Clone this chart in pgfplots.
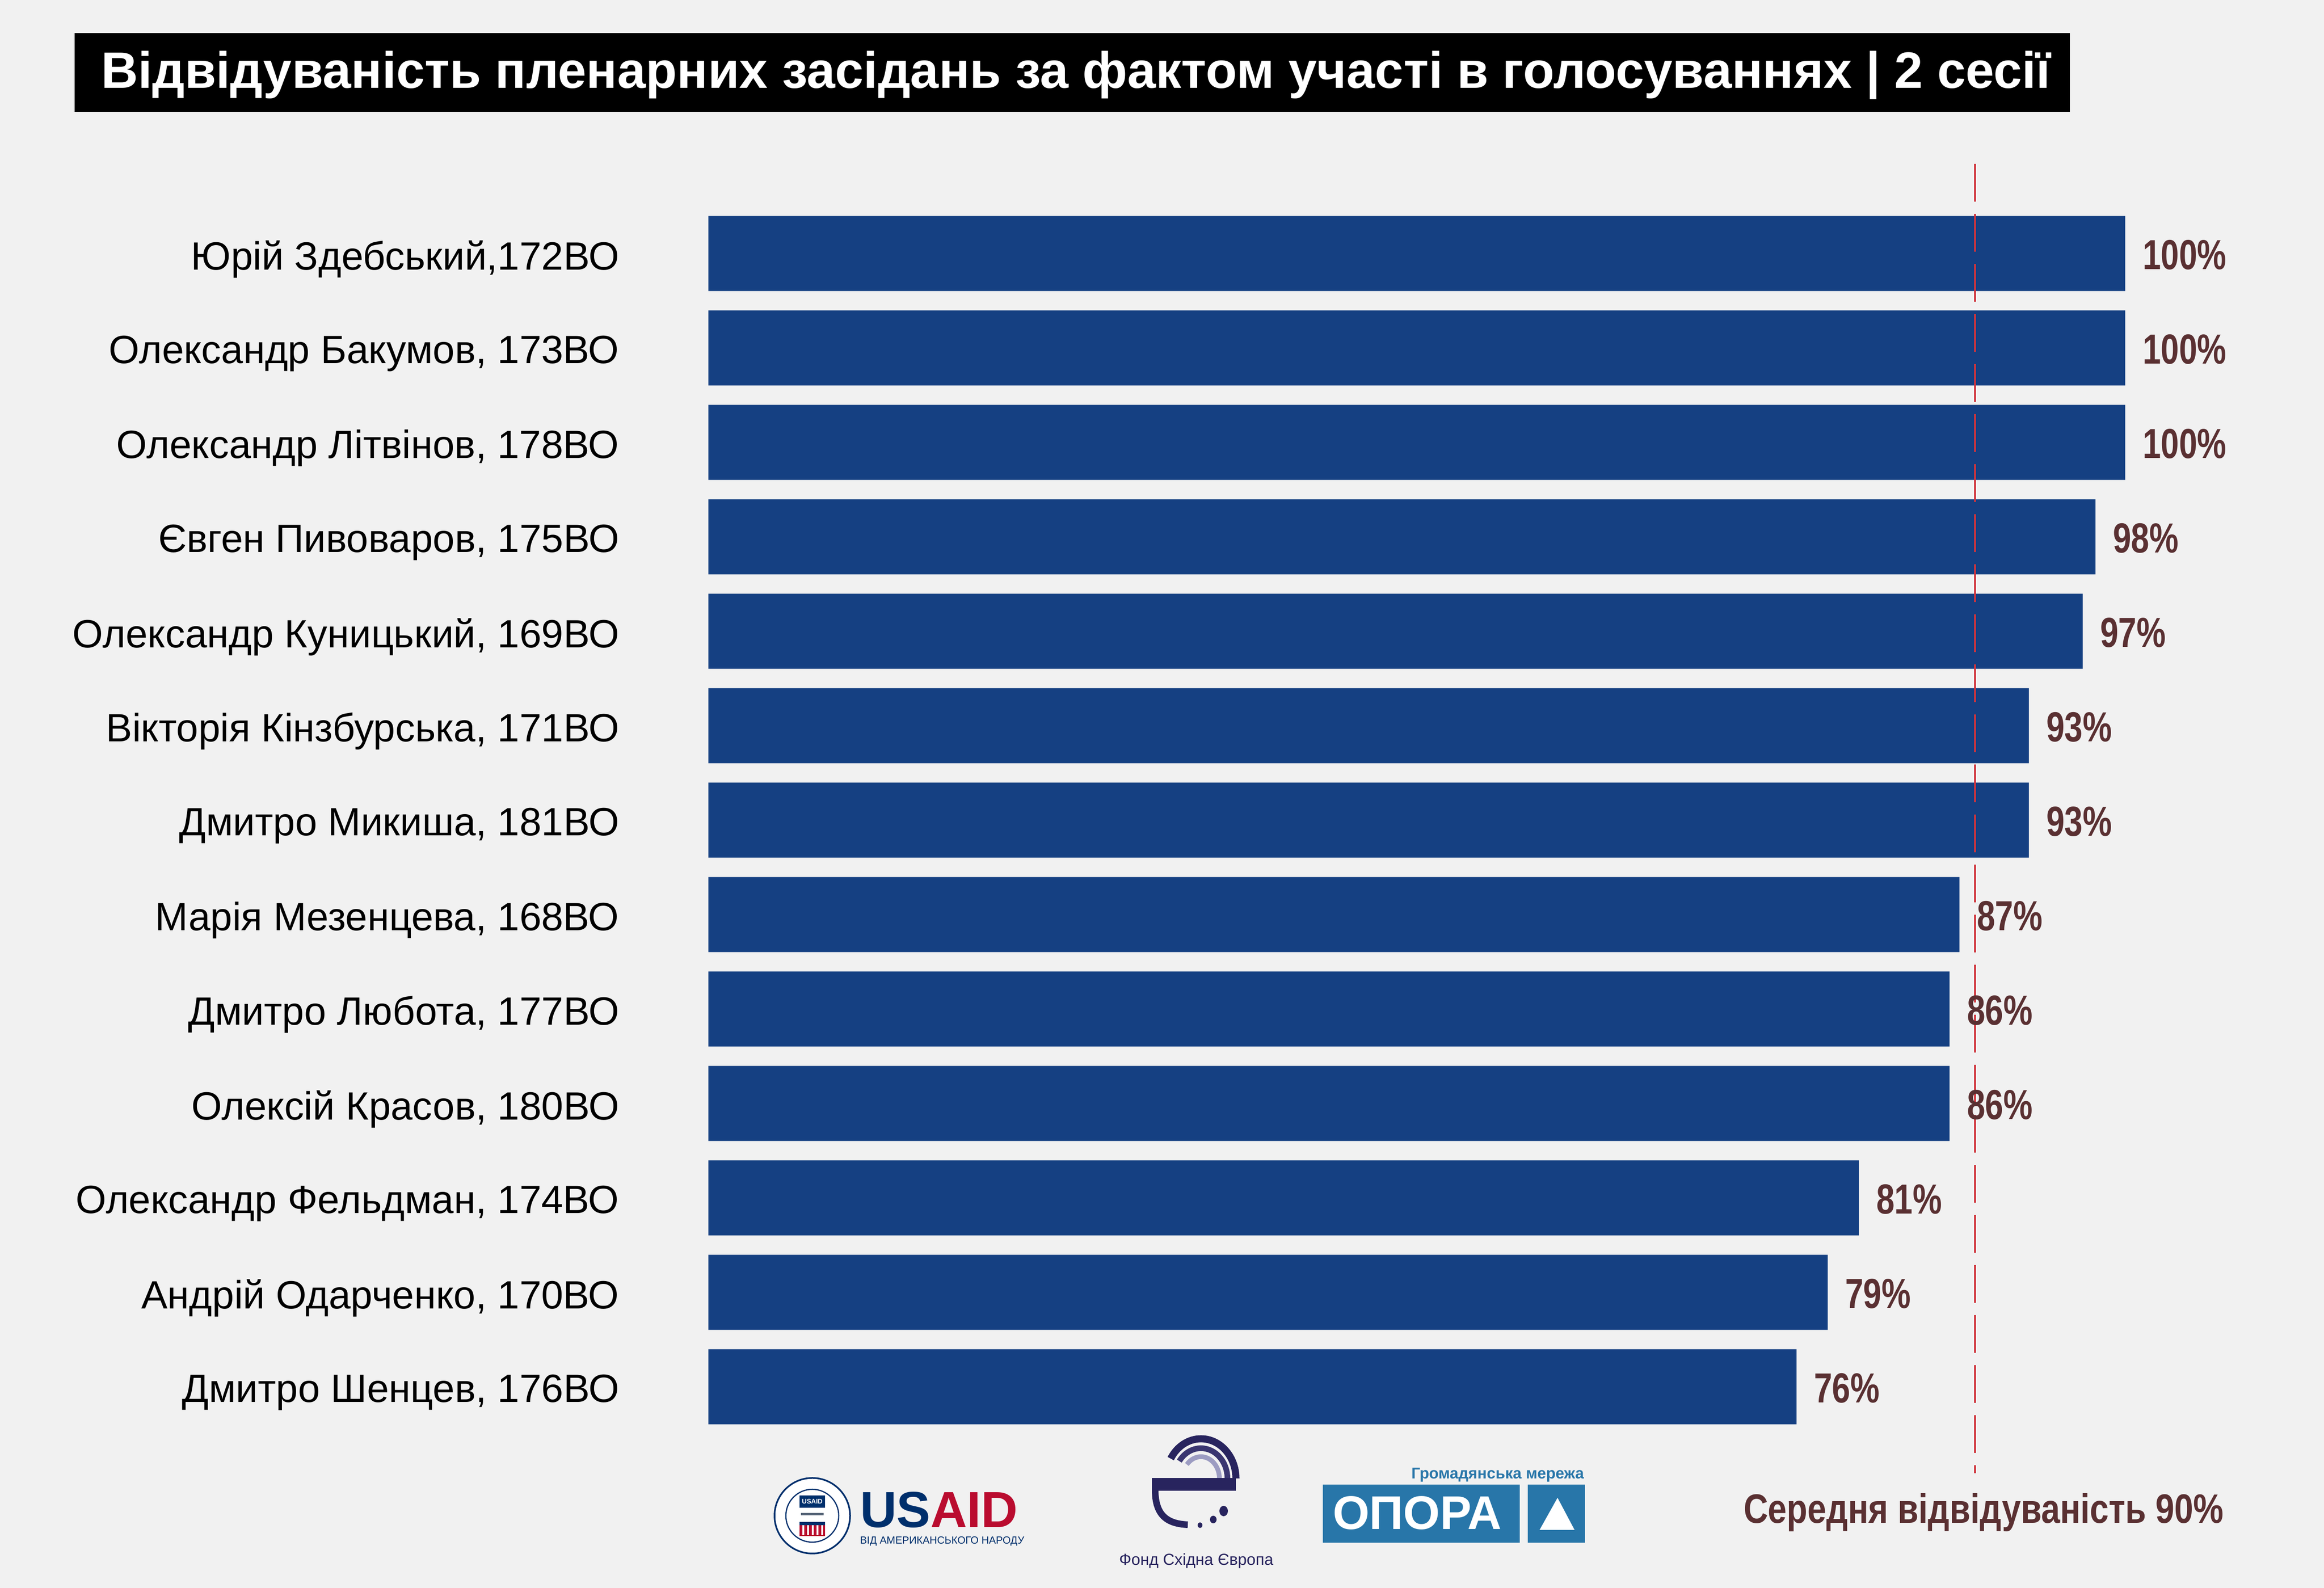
\documentclass[border=0pt]{standalone}
\usepackage{pgfplots}
\pgfplotsset{compat=1.18}
\usepackage{pgfplotstable}
\usepackage{fontspec}
\setmainfont{Liberation Sans}
\newfontfamily\narrowbold[FakeStretch=0.78]{Liberation Sans Bold}
\newfontfamily\narrowboldb[FakeStretch=0.826]{Liberation Sans Bold}
\definecolor{bg}{HTML}{F1F1F1}
\definecolor{barblue}{HTML}{154082}
\definecolor{valbrown}{HTML}{5A3032}
\definecolor{meanred}{HTML}{D0343C}
\definecolor{usblue}{HTML}{002F6C}
\definecolor{usred}{HTML}{BA0C2F}
\definecolor{fondnavy}{HTML}{28245E}
\definecolor{fondmid}{HTML}{3A3670}
\definecolor{fondlav}{HTML}{9C9CC2}
\definecolor{opora}{HTML}{2876A9}

\pgfplotstableread{
i v lab
0 100.0 100
1 100.0 100
2 100.0 100
3 97.9 98
4 97.0 97
5 93.2 93
6 93.2 93
7 88.3 87
8 87.6 86
9 87.6 86
10 81.2 81
11 79.0 79
12 76.8 76
}\attend

\begin{document}
\begin{tikzpicture}[x=1pt,y=1pt]
\useasboundingbox (0,0) rectangle (492.1,336.3);
\fill[bg] (0,0) rectangle (492.1,336.3);
% title
\fill[black] (15.8,312.6) rectangle (438.3,329.3);
\node[anchor=base west, inner sep=0pt, text=white, font=\bfseries\fontsize{10.83}{12}\selectfont] at (21.2,317.6)
  {Відвідуваність пленарних засідань за фактом участі в голосуваннях | 2 сесії};

\begin{axis}[
  at={(150pt,32.6pt)}, anchor=south west,
  scale only axis, width=300pt, height=260pt,
  xmin=0, xmax=100, ymin=-0.5, ymax=12.5,
  y dir=reverse,
  axis line style={draw=none},
  tick style={draw=none},
  major tick length=0pt,
  xtick=\empty,
  ytick={0,1,2,3,4,5,6,7,8,9,10,11,12},
  yticklabels={{Юрій Здебський,172ВО},{Олександр Бакумов, 173ВО},{Олександр Літвінов, 178ВО},{Євген Пивоваров, 175ВО},{Олександр Куницький, 169ВО},{Вікторія Кінзбурська, 171ВО},{Дмитро Микиша, 181ВО},{Марія Мезенцева, 168ВО},{Дмитро Любота, 177ВО},{Олексій Красов, 180ВО},{Олександр Фельдман, 174ВО},{Андрій Одарченко, 170ВО},{Дмитро Шенцев, 176ВО}},
  yticklabel style={anchor=east, inner sep=0pt, xshift=-18.7pt, yshift=-1.2pt, font=\fontsize{8.35}{10}\selectfont, text=black},
  clip=false,
]
\addplot[xbar, bar width=15.9pt, fill=barblue, draw=none,
  nodes near coords={\pgfplotspointmeta\%},
  point meta=explicit symbolic,
  every node near coord/.append style={anchor=west, inner sep=0pt, xshift=3.5pt, yshift=-0.3pt,
    font=\narrowbold\fontsize{8.9}{10}\selectfont, text=valbrown}]
  table[x=v, y=i, meta=lab] {\attend};
\addplot[meanred, line width=0.45pt, dash pattern=on 8pt off 2.6pt, mark=none]
  coordinates {(89.4,-0.95) (89.4,12.915)};
\end{axis}

% mean label
\node[anchor=base west, inner sep=0pt, text=valbrown, font=\narrowboldb\fontsize{8.7}{10}\selectfont] at (369,13.7)
  {Середня відвідуваність 90\%};

% USAID logo
\fill[white] (172,15.3) circle (8);
\draw[usblue, line width=0.35pt] (172,15.3) circle (8);
\draw[usblue, line width=0.25pt] (172,15.3) circle (5.6);
\fill[usblue] (169.3,17.0) rectangle (174.7,19.6);
\node[inner sep=0pt, text=white, font=\bfseries\fontsize{1.4}{2}\selectfont] at (172,18.3) {USAID};
\fill[usblue] (169.3,13.3) rectangle (174.7,14.0);
\fill[usred] (169.3,11.0) rectangle (174.7,13.3);
\foreach \s in {169.9,170.9,171.9,172.9,173.9} {\fill[white] (\s,11.2) rectangle (\s+0.4,13.3);}
\draw[gray!70!usblue, line width=0.5pt] (169.6,15.6) -- (174.4,15.6);
\node[anchor=base west, inner sep=0pt, font=\bfseries\fontsize{10.75}{12}\selectfont] at (181.9,12.8)
  {\textcolor{usblue}{US}\textcolor{usred}{AID}};
\node[anchor=base west, inner sep=0pt, text=usblue, font=\fontsize{2.2}{3}\selectfont] at (181.9,9.3)
  {ВІД АМЕРИКАНСЬКОГО НАРОДУ};

% Fond Skhidna Yevropa logo
\draw[fondnavy, line width=1.5pt] (261.7,23.2) arc[start angle=0, end angle=150, x radius=7.4, y radius=8.4];
\draw[fondmid, line width=1.2pt] (259.9,23.2) arc[start angle=0, end angle=145, x radius=5.6, y radius=6.4];
\draw[fondlav, line width=1.0pt] (258.2,23.2) arc[start angle=0, end angle=140, x radius=3.9, y radius=4.6];
\fill[fondnavy] (243.9,20.6) rectangle (261.7,23.3);
\draw[fondnavy, line width=1.4pt] (244.6,20.8) .. controls (244.6,15.5) and (247,13.6) .. (251.5,13.4);
\fill[fondnavy] (259.1,16.3) ellipse (0.9 and 1.1);
\fill[fondnavy] (256.9,14.5) ellipse (0.7 and 0.8);
\fill[fondnavy] (254.1,13.3) ellipse (0.5 and 0.6);
\node[anchor=base, inner sep=0pt, text=fondnavy, font=\fontsize{3.4}{4}\selectfont] at (253.3,4.8)
  {Фонд Східна Європа};

% OPORA logo
\node[anchor=base east, inner sep=0pt, text=opora, font=\bfseries\fontsize{3.3}{4}\selectfont] at (335.6,23.1)
  {Громадянська мережа};
\fill[opora] (280.1,9.6) rectangle (321.8,21.9);
\fill[opora] (323.5,9.6) rectangle (335.6,21.9);
\node[anchor=base west, inner sep=0pt, text=white, font=\bfseries\fontsize{10}{12}\selectfont] at (282,12.4) {ОПОРА};
\fill[white] (326.0,12.3) -- (333.4,12.3) -- (329.8,19.1) -- cycle;
\end{tikzpicture}
\end{document}
